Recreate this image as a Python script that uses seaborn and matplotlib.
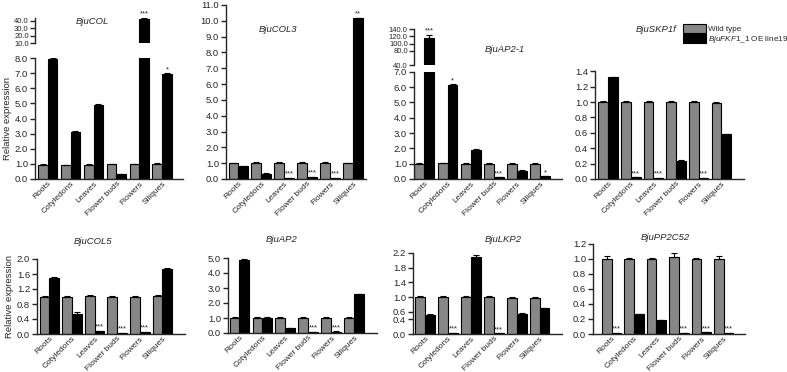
import numpy as np
import pandas as pd
import seaborn as sns
import matplotlib.pyplot as plt
from matplotlib.patches import Patch
from matplotlib.ticker import FormatStrFormatter

sns.set_style("ticks")
plt.rcParams["font.family"] = ["Liberation Sans", "DejaVu Sans"]
plt.rcParams["mathtext.fontset"] = "custom"
plt.rcParams["mathtext.it"] = "Liberation Sans:italic"
plt.rcParams["mathtext.rm"] = "Liberation Sans"

# ----------------------------
# data
# ----------------------------
tissues = ["Roots", "Cotyledons", "Leaves", "Flower buds", "Flowers", "Siliques"]
genotypes = ["Wild type", "BjuFKF1_1 OE line19"]

col_wt = [0.95, 0.93, 0.95, 0.97, 0.96, 0.97]
col_wt_err = [0.02, 0.02, 0.02, 0.03, 0.03, 0.07]
col_oe = [7.92, 3.12, 4.92, 0.32, 42.5, 6.95]
col_oe_err = [0.1, 0.03, 0.03, 0.02, 1.5, 0.05]
col_stars = ["*", "", "", "", "***", "*"]

col3_wt = [1.0, 1.02, 1.02, 1.02, 1.02, 1.0]
col3_wt_err = [0.04, 0.04, 0.04, 0.04, 0.04, 0.04]
col3_oe = [0.8, 0.33, 0.07, 0.12, 0.07, 10.15]
col3_oe_err = [0.03, 0.03, 0.01, 0.02, 0.01, 0.05]
col3_stars = ["", "", "***", "***", "***", "**"]

ap21_wt = [1.0, 1.03, 1.0, 1.0, 1.0, 1.0]
ap21_wt_err = [0.03, 0.03, 0.03, 0.03, 0.03, 0.03]
ap21_oe = [116.0, 6.1, 1.9, 0.1, 0.55, 0.18]
ap21_oe_err = [9.0, 0.1, 0.04, 0.01, 0.02, 0.02]
ap21_stars = ["***", "*", "", "***", "", "*"]

skp_wt = [1.0, 1.0, 1.0, 1.0, 1.0, 0.99]
skp_wt_err = [0.01, 0.01, 0.01, 0.01, 0.01, 0.01]
skp_oe = [1.32, 0.02, 0.01, 0.24, 0.01, 0.58]
skp_oe_err = [0.01, 0.005, 0.005, 0.005, 0.005, 0.005]
skp_stars = ["", "***", "***", "", "***", ""]

col5_wt = [1.0, 0.99, 1.01, 1.0, 0.99, 1.01]
col5_wt_err = [0.02, 0.02, 0.02, 0.02, 0.03, 0.02]
col5_oe = [1.5, 0.53, 0.08, 0.03, 0.05, 1.74]
col5_oe_err = [0.02, 0.05, 0.01, 0.01, 0.01, 0.02]
col5_stars = ["", "", "***", "***", "***", ""]

ap2_wt = [1.0, 1.0, 1.0, 1.0, 1.0, 1.02]
ap2_wt_err = [0.05, 0.05, 0.05, 0.05, 0.05, 0.05]
ap2_oe = [4.88, 1.0, 0.32, 0.07, 0.1, 2.58]
ap2_oe_err = [0.04, 0.08, 0.01, 0.01, 0.01, 0.04]
ap2_stars = ["", "", "", "***", "***", ""]

lkp_wt = [1.0, 1.0, 1.0, 1.0, 0.99, 0.99]
lkp_wt_err = [0.02, 0.02, 0.02, 0.02, 0.02, 0.02]
lkp_oe = [0.52, 0.03, 2.1, 0.02, 0.55, 0.7]
lkp_oe_err = [0.03, 0.01, 0.05, 0.01, 0.02, 0.01]
lkp_stars = ["", "***", "", "***", "", ""]

pp_wt = [1.0, 1.0, 1.0, 1.02, 1.0, 1.0]
pp_wt_err = [0.03, 0.01, 0.01, 0.05, 0.01, 0.04]
pp_oe = [0.01, 0.26, 0.18, 0.01, 0.02, 0.01]
pp_oe_err = [0.005, 0.01, 0.01, 0.005, 0.005, 0.005]
pp_stars = ["***", "", "", "***", "***", "***"]

GRAY = "#878787"
FS = 6.8
W, H = 787, 372

fig = plt.figure(figsize=(W / 100, H / 100), dpi=100)


def px_axes(l, t, r, b):
    return fig.add_axes([l / W, 1 - b / H, (r - l) / W, (b - t) / H])


def bars(ax, wt, oe, wt_err, oe_err):
    df = pd.DataFrame({
        "tissue": tissues * 2,
        "genotype": [genotypes[0]] * 6 + [genotypes[1]] * 6,
        "value": wt + oe,
    })
    sns.barplot(data=df, x="tissue", y="value", hue="genotype",
                palette=[GRAY, "black"], edgecolor="black", linewidth=0.8,
                width=0.86, errorbar=None, legend=False, ax=ax)
    for cont, err in zip(ax.containers, [wt_err, oe_err]):
        xs = [b.get_x() + b.get_width() / 2 for b in cont]
        hs = [b.get_height() for b in cont]
        ax.errorbar(xs, hs, yerr=[np.zeros(6), err], fmt="none",
                    ecolor="black", elinewidth=0.8, capsize=2.2, capthick=0.8)
    return [b.get_x() + b.get_width() / 2 for b in ax.containers[1]]


def stars_on(ax, xs, oe, oe_err, stars, top=None):
    for x, v, e, s in zip(xs, oe, oe_err, stars):
        if not s:
            continue
        if top is not None and v + e > top:
            continue
        ax.annotate(s, (x, v + e), xytext=(0, 0), textcoords="offset points",
                    ha="center", va="bottom", fontsize=5.5)


def style(ax, xlim, ylim, yticks, xlabels=True, fs=FS):
    ax.set_xlim(*xlim)
    ax.set_ylim(*ylim)
    ax.set_yticks(yticks)
    ax.yaxis.set_major_formatter(FormatStrFormatter("%.1f"))
    ax.set_xlabel("")
    ax.set_ylabel("")
    sns.despine(ax=ax)
    for sp in ["left", "bottom"]:
        ax.spines[sp].set_linewidth(1.0)
    ax.tick_params(axis="y", labelsize=fs, length=3.5, width=1.0, pad=1.5)
    ax.tick_params(axis="x", length=0, pad=1)
    if xlabels:
        ax.set_xticks(range(6))
        ax.set_xticklabels(tissues, rotation=45, ha="right",
                           rotation_mode="anchor", fontsize=6.0)


def upper_style(ax, xlim, ylim, yticks):
    style(ax, xlim, ylim, yticks, xlabels=False, fs=5.5)
    ax.tick_params(axis="y", pad=1)
    ax.spines["bottom"].set_visible(False)
    ax.set_xticks([])


def title(x, y, txt):
    fig.text(x / W, 1 - y / H, txt, fontsize=FS, style="italic",
             ha="center", va="center")


# ---- BjuCOL (broken axis) ----
ax1 = px_axes(35, 58, 183, 179)
xs = bars(ax1, col_wt, col_oe, col_wt_err, col_oe_err)
style(ax1, (-0.55, 5.9), (0, 8.0), np.arange(0, 8.1, 1.0))
stars_on(ax1, xs, col_oe, col_oe_err, col_stars, top=8.0)
ax1.set_ylabel("Relative expression", fontsize=FS, labelpad=2)
ax1u = px_axes(35, 18.3, 183, 43.3)
bars(ax1u, col_wt, col_oe, col_wt_err, col_oe_err)
upper_style(ax1u, (-0.55, 5.9), (10, 43), [10, 20, 30, 40])
for x, v, e, s in zip(xs, col_oe, col_oe_err, col_stars):
    if s and v > 10:
        ax1u.annotate(s, (x, v + e), ha="center", va="bottom", fontsize=5.5,
                      annotation_clip=False)
title(92, 21, "BjuCOL")

# ---- BjuCOL3 ----
ax2 = px_axes(226, 5, 366, 179)
xs = bars(ax2, col3_wt, col3_oe, col3_wt_err, col3_oe_err)
style(ax2, (-0.54, 5.56), (0, 11.0), np.arange(0, 11.1, 1.0))
stars_on(ax2, xs, col3_oe, col3_oe_err, col3_stars)
title(278, 30, "BjuCOL3")

# ---- BjuAP2-1 (broken axis) ----
ax3 = px_axes(414, 71.7, 562, 179)
xs = bars(ax3, ap21_wt, ap21_oe, ap21_wt_err, ap21_oe_err)
style(ax3, (-0.45, 5.95), (0, 7.0), np.arange(0, 7.1, 1.0))
stars_on(ax3, xs, ap21_oe, ap21_oe_err, ap21_stars, top=7.0)
ax3u = px_axes(414, 29.3, 562, 65.3)
bars(ax3u, ap21_wt, ap21_oe, ap21_wt_err, ap21_oe_err)
upper_style(ax3u, (-0.45, 5.95), (40, 140), [40, 80, 100, 120, 140])
for x, v, e, s in zip(xs, ap21_oe, ap21_oe_err, ap21_stars):
    if s and v > 40:
        ax3u.annotate(s, (x, v + e), ha="center", va="bottom", fontsize=5.5,
                      annotation_clip=False)
title(505, 50, "BjuAP2-1")

# ---- BjuSKP1f ----
ax4 = px_axes(595, 71.3, 744, 179)
xs = bars(ax4, skp_wt, skp_oe, skp_wt_err, skp_oe_err)
style(ax4, (-0.58, 6.0), (0, 1.4), np.arange(0, 1.41, 0.2))
stars_on(ax4, xs, skp_oe, skp_oe_err, skp_stars)
title(656, 29, "BjuSKP1f")

handles = [Patch(facecolor=GRAY, edgecolor="black", linewidth=0.8),
           Patch(facecolor="black", edgecolor="black", linewidth=0.8)]
fig.legend(handles, ["Wild type", r"$\it{BjuFKF1\_1}$ OE line19"],
           loc="upper left", bbox_to_anchor=(683 / W, 1 - 24 / H),
           frameon=False, fontsize=5.9, handlelength=2.8, handleheight=1.4,
           handletextpad=0.25, labelspacing=0.05, borderpad=0, borderaxespad=0)

# ---- BjuCOL5 ----
ax5 = px_axes(37, 259, 185, 334)
xs = bars(ax5, col5_wt, col5_oe, col5_wt_err, col5_oe_err)
style(ax5, (-0.55, 6.0), (0, 2.0), [0, 0.4, 0.8, 1.2, 1.6, 2.0])
stars_on(ax5, xs, col5_oe, col5_oe_err, col5_stars)
ax5.set_ylabel("Relative expression", fontsize=FS, labelpad=2)
title(93, 241, "BjuCOL5")

# ---- BjuAP2 ----
ax6 = px_axes(228, 258, 377, 333)
xs = bars(ax6, ap2_wt, ap2_oe, ap2_wt_err, ap2_oe_err)
style(ax6, (-0.5, 6.0), (0, 5.0), np.arange(0, 5.1, 1.0))
stars_on(ax6, xs, ap2_oe, ap2_oe_err, ap2_stars)
title(282, 240, "BjuAP2")

# ---- BjuLKP2 ----
ax7 = px_axes(413, 253, 562, 334)
xs = bars(ax7, lkp_wt, lkp_oe, lkp_wt_err, lkp_oe_err)
style(ax7, (-0.53, 5.98), (0, 2.2), [0, 0.4, 0.6, 1.0, 1.4, 1.8, 2.2])
stars_on(ax7, xs, lkp_oe, lkp_oe_err, lkp_stars)
title(503, 240, "BjuLKP2")

# ---- BjuPP2C52 ----
ax8 = px_axes(593, 243.7, 745, 334)
xs = bars(ax8, pp_wt, pp_oe, pp_wt_err, pp_oe_err)
style(ax8, (-0.83, 5.95), (0, 1.2), np.arange(0, 1.21, 0.2))
stars_on(ax8, xs, pp_oe, pp_oe_err, pp_stars)
title(665, 238, "BjuPP2C52")

plt.savefig("out.png", dpi=100)
